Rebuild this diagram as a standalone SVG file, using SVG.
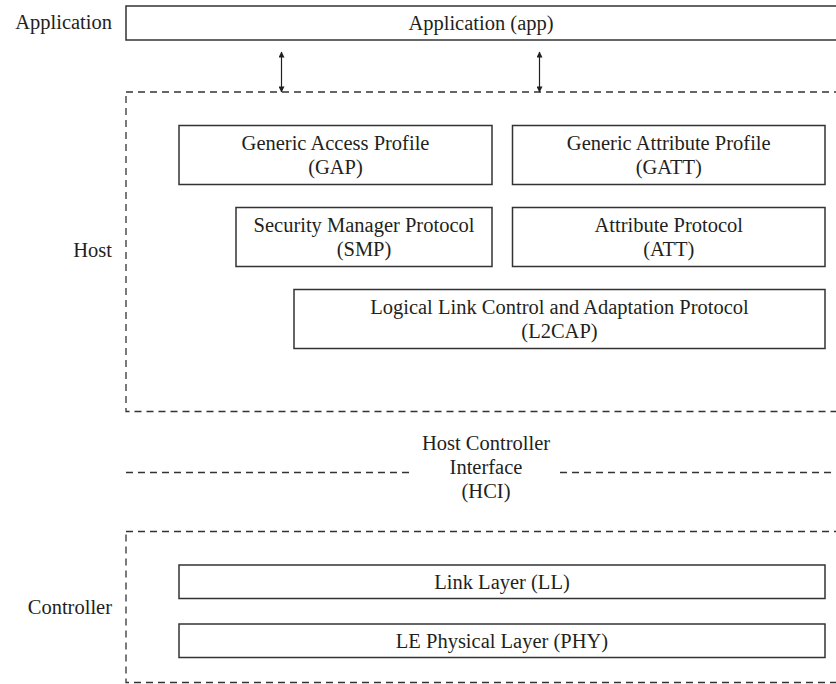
<svg xmlns="http://www.w3.org/2000/svg" width="836" height="684" viewBox="0 0 836 684">
  <style>
    .box { fill: #ffffff; stroke: #333333; stroke-width: 1.5; }
    .group { fill: none; stroke: #333333; stroke-width: 1.3; stroke-dasharray: 7 5; }
    .txt { font-family: "Liberation Serif", "Times New Roman", serif; font-size: 20.5px; fill: #231f20; text-anchor: middle; }
    .side { font-family: "Liberation Serif", "Times New Roman", serif; font-size: 20.5px; fill: #231f20; text-anchor: end; }
    .link { stroke: #231f20; stroke-width: 1.2; fill: none; }
  </style>
  <defs>
    <marker id="head" viewBox="0 0 10 10" refX="9" refY="5" markerWidth="7" markerHeight="6" orient="auto-start-reverse" markerUnits="userSpaceOnUse">
      <path d="M0,0 L10,5 L0,10 z" fill="#231f20"/>
    </marker>
  </defs>
  <rect width="836" height="684" fill="#ffffff"/>

  <!-- layer labels -->
  <g id="labels">
    <text class="side" x="112" y="29">Application</text>
    <text class="side" x="112" y="257">Host</text>
    <text class="side" x="112" y="614">Controller</text>
  </g>

  <!-- application layer -->
  <g id="app">
    <rect class="box" x="126" y="6" width="730" height="34"/>
    <text class="txt" x="481" y="30">Application (app)</text>
  </g>

  <!-- host and controller groupings -->
  <g id="host">
    <rect class="group" x="126" y="92" width="730" height="319.5"/>
  </g>
  <g id="hci">
    <line class="group" x1="126" y1="472.5" x2="410" y2="472.5"/>
    <line class="group" x1="560" y1="472.5" x2="840" y2="472.5"/>
    <text class="txt" x="486" y="450">Host Controller</text>
    <text class="txt" x="486" y="474">Interface</text>
    <text class="txt" x="486" y="498">(HCI)</text>
  </g>
  <g id="controller">
    <rect class="group" x="126" y="531.5" width="730" height="151"/>
  </g>

  <!-- host protocol blocks -->
  <g id="gap">
    <rect class="box" x="179" y="125.5" width="313" height="59"/>
    <text class="txt" x="335.5" y="150">Generic Access Profile</text>
    <text class="txt" x="335.5" y="174">(GAP)</text>
  </g>
  <g id="gatt">
    <rect class="box" x="512.5" y="125.5" width="312.5" height="59"/>
    <text class="txt" x="668.75" y="150">Generic Attribute Profile</text>
    <text class="txt" x="668.75" y="174">(GATT)</text>
  </g>
  <g id="smp">
    <rect class="box" x="236" y="207.5" width="256" height="59"/>
    <text class="txt" x="364" y="232">Security Manager Protocol</text>
    <text class="txt" x="364" y="256">(SMP)</text>
  </g>
  <g id="att">
    <rect class="box" x="512.5" y="207.5" width="312.5" height="59"/>
    <text class="txt" x="668.75" y="232">Attribute Protocol</text>
    <text class="txt" x="668.75" y="256">(ATT)</text>
  </g>
  <g id="l2cap">
    <rect class="box" x="294" y="289.5" width="531" height="59"/>
    <text class="txt" x="559.5" y="314">Logical Link Control and Adaptation Protocol</text>
    <text class="txt" x="559.5" y="338">(L2CAP)</text>
  </g>

  <!-- controller blocks -->
  <g id="ll">
    <rect class="box" x="179" y="565" width="646" height="33.5"/>
    <text class="txt" x="502" y="589">Link Layer (LL)</text>
  </g>
  <g id="phy">
    <rect class="box" x="179" y="624" width="646" height="33.5"/>
    <text class="txt" x="502" y="648">LE Physical Layer (PHY)</text>
  </g>

  <!-- app to host connectors -->
  <g id="connectors">
    <line class="link" x1="281.5" y1="52" x2="281.5" y2="92" marker-start="url(#head)" marker-end="url(#head)"/>
    <line class="link" x1="539.5" y1="52" x2="539.5" y2="92" marker-start="url(#head)" marker-end="url(#head)"/>
  </g>
</svg>
